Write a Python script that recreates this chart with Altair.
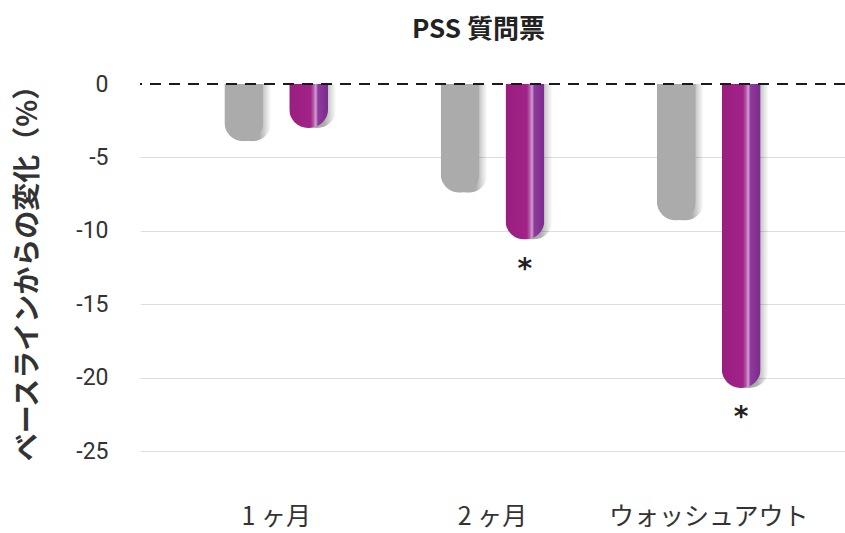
import altair as alt
import pandas as pd

# Change from baseline in PSS score (%), by visit
visits = ["1 ヶ月", "2 ヶ月", "ウォッシュアウト"]
control = [-3.9, -7.4, -9.3]
treated = [-3.0, -10.6, -20.7]
treated_sig = ["", "*", "*"]
y_ticks = [0, -5, -10, -15, -20, -25]

groups = ["control", "treated"]
rows = []
for i, v in enumerate(visits):
    rows.append({"visit": v, "group": "control", "value": control[i], "sig": ""})
    rows.append({"visit": v, "group": "treated", "value": treated[i], "sig": treated_sig[i]})
df = pd.DataFrame(rows)

JP = "Noto Sans CJK JP"

W, H = 705, 367
X_PAD_INNER, X_PAD_OUTER = 0.52, 0.39
OFF_PAD_INNER = 0.40
# width of one visit band, used to place the drop shadow a few pixels right
band_w = W / (len(visits) - X_PAD_INNER + 2 * X_PAD_OUTER) * (1 - X_PAD_INNER)
SHADOW_SHIFT = 8

x_enc = alt.X(
    "visit:N",
    sort=visits,
    scale=alt.Scale(paddingInner=X_PAD_INNER, paddingOuter=X_PAD_OUTER),
    axis=alt.Axis(
        title=None, labelAngle=0, domain=False, ticks=False,
        labelFont=JP, labelFontSize=25, labelColor="#333333", labelLimit=400,
        labelPadding=53, labelBaseline="top",
    ),
)

xoff_main = alt.XOffset(
    "group:N",
    scale=alt.Scale(domain=groups, paddingInner=OFF_PAD_INNER, paddingOuter=0),
)
xoff_shadow = alt.XOffset(
    "group:N",
    scale=alt.Scale(domain=groups, paddingInner=OFF_PAD_INNER, paddingOuter=0,
                    range=[SHADOW_SHIFT, band_w + SHADOW_SHIFT]),
)

y_enc = alt.Y(
    "value:Q",
    scale=alt.Scale(domain=[-25, 0], nice=False),
    axis=alt.Axis(
        values=y_ticks,
        labelExpr="'' + datum.value",
        title="ベースラインからの変化（%）",
        titleFont=JP, titleFontSize=28, titleFontWeight="bold", titleColor="#333333",
        titleAngle=-90, titleX=-112, titleY=182, titleAlign="center", titleBaseline="middle",
        labelFont="Roboto", labelFontSize=23, labelColor="#333333", labelPadding=32,
        domain=False, ticks=False,
        gridColor={"condition": {"test": "datum.value === 0", "value": "rgba(0,0,0,0)"},
                   "value": "#DDDDDD"},
        gridWidth=1.2,
    ),
)

radius = 19
ends = dict(cornerRadiusBottomLeft=radius, cornerRadiusBottomRight=radius)

shadow = (
    alt.Chart(df)
    .mark_bar(
        **ends,
        color=alt.Gradient(
            gradient="linear", x1=0, x2=1, y1=0, y2=0,
            stops=[
                alt.GradientStop(color="rgba(0,0,0,0.38)", offset=0),
                alt.GradientStop(color="rgba(0,0,0,0.32)", offset=0.7),
                alt.GradientStop(color="rgba(0,0,0,0.12)", offset=0.88),
                alt.GradientStop(color="rgba(0,0,0,0)", offset=1),
            ],
        ),
    )
    .encode(x=x_enc, xOffset=xoff_shadow, y=y_enc)
)

gray_bars = (
    alt.Chart(df)
    .transform_filter(alt.datum.group == "control")
    .mark_bar(**ends, color="#ABABAB")
    .encode(x=x_enc, xOffset=xoff_main, y=y_enc)
)

purple_bars = (
    alt.Chart(df)
    .transform_filter(alt.datum.group == "treated")
    .mark_bar(
        **ends,
        color=alt.Gradient(
            gradient="linear", x1=0, x2=1, y1=0, y2=0,
            stops=[
                alt.GradientStop(color="#9A1D80", offset=0),
                alt.GradientStop(color="#A12387", offset=0.55),
                alt.GradientStop(color="#B860AE", offset=0.63),
                alt.GradientStop(color="#CFA2CF", offset=0.68),
                alt.GradientStop(color="#8E3A9C", offset=0.74),
                alt.GradientStop(color="#7A2B8D", offset=1),
            ],
        ),
    )
    .encode(x=x_enc, xOffset=xoff_main, y=y_enc)
)

stars = (
    alt.Chart(df)
    .transform_filter(alt.datum.sig != "")
    .mark_text(font="DejaVu Sans", fontWeight="bold", fontSize=28, color="#222222",
               baseline="middle", dy=30)
    .encode(x=x_enc, xOffset=xoff_main, y=y_enc, text="sig:N")
)

zero_line = (
    alt.Chart(pd.DataFrame({"value": [0]}))
    .mark_rule(color="#1A1A1A", strokeWidth=2, strokeDash=[11, 8])
    .encode(y=alt.Y("value:Q"))
)

bars = alt.layer(gray_bars, purple_bars, stars)

chart = (
    alt.layer(shadow, bars, zero_line)
    .resolve_scale(xOffset="independent")
    .properties(
        width=W,
        height=H,
        autosize=alt.AutoSizeParams(type="none"),
        padding={"left": 140, "top": 84, "right": 0, "bottom": 82},
        title=alt.TitleParams(
            "PSS 質問票", font=JP, fontSize=26, fontWeight="bold", color="#222222",
            anchor="middle", offset=28, dx=-14,
        ),
        background="white",
    )
    .configure_view(stroke=None)
)

chart.save("out.html", embed_options={"renderer": "svg", "actions": False})
